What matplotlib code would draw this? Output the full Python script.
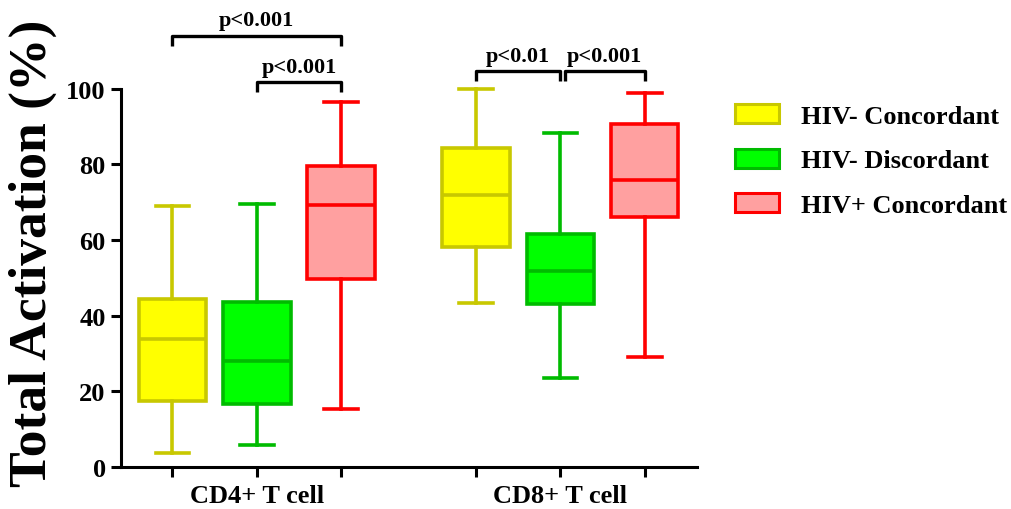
import matplotlib.pyplot as plt
from matplotlib.patches import Patch

# Box statistics (whisker low, Q1, median, Q3, whisker high)
groups = ['CD4+ T cell', 'CD8+ T cell']
series = ['HIV- Concordant', 'HIV- Discordant', 'HIV+ Concordant']

whisker_low = [3.7, 5.9, 15.4, 43.4, 23.5, 29.2]
q1 = [17.4, 16.7, 49.8, 58.2, 43.2, 66.1]
median = [33.9, 28.1, 69.3, 71.9, 51.7, 75.8]
q3 = [44.3, 43.6, 79.6, 84.4, 61.7, 90.6]
whisker_high = [69.1, 69.6, 96.6, 99.9, 88.4, 98.9]

# significance brackets: (left box index, right box index, bracket height, label)
brackets = [(0, 2, 114.0, 'p<0.001'),
            (1, 2, 101.8, 'p<0.001'),
            (3, 4, 104.6, 'p<0.01'),
            (4, 5, 104.6, 'p<0.001')]

fills = ['#FFFF00', '#00FF00', '#FFA0A0']
edges = ['#C8C800', '#00BB00', '#FF0000']

positions = [0, 1, 2, 3.6, 4.6, 5.6]

plt.rcParams['font.family'] = ['Liberation Serif', 'DejaVu Serif']
plt.rcParams['font.weight'] = 'bold'

fig = plt.figure(figsize=(10.12, 5.1), dpi=100)
ax = fig.add_axes([121 / 1012, 42 / 510, (697 - 121) / 1012, 0.905])

stats = []
for i in range(len(positions)):
    stats.append(dict(whislo=whisker_low[i], q1=q1[i], med=median[i],
                      q3=q3[i], whishi=whisker_high[i], fliers=[]))

lw = 2.6
for i, st in enumerate(stats):
    c = i % 3
    ax.bxp([st], positions=[positions[i]], widths=0.8, patch_artist=True,
           showfliers=False,
           boxprops=dict(facecolor=fills[c], edgecolor=edges[c], linewidth=lw),
           medianprops=dict(color=edges[c], linewidth=lw),
           whiskerprops=dict(color=edges[c], linewidth=lw),
           capprops=dict(color=edges[c], linewidth=lw))

# brackets with p-values
tick_h = 2.7
for a, b, h, label in brackets:
    x1, x2 = positions[a], positions[b]
    if a == 4:
        x1 += 0.05
    ax.plot([x1, x1, x2, x2], [h - tick_h, h, h, h - tick_h], color='black',
            linewidth=2.4, solid_capstyle='butt', clip_on=False)
    ax.text((x1 + x2) / 2, h + 1.4, label, ha='center', va='bottom',
            fontsize=16, fontweight='bold')

ax.set_xlim(-0.61, 6.22)
ax.set_ylim(0, 122)
ax.set_yticks([0, 20, 40, 60, 80, 100])
ax.set_xticks(positions)
ax.set_xticklabels(['', groups[0], '', '', groups[1], ''])
ax.spines['left'].set_bounds(0, 100)
ax.spines['top'].set_visible(False)
ax.spines['right'].set_visible(False)
for s in ['left', 'bottom']:
    ax.spines[s].set_linewidth(2.2)
ax.tick_params(axis='both', direction='out', length=7, width=2.2,
               labelsize=19, pad=4)
ax.tick_params(axis='x', pad=5)
for lab in ax.get_xticklabels() + ax.get_yticklabels():
    lab.set_fontweight('bold')

fig.text(33 / 1012, 0.503, 'Total Activation (%)', rotation=90,
         ha='center', va='center', fontsize=38.5, fontweight='bold')

handles = [Patch(facecolor=fills[k], edgecolor=edges[k], linewidth=2.2)
           for k in range(3)]
fig.legend(handles, series, loc='upper left',
           bbox_to_anchor=(735 / 1012, 1 - 105 / 510),
           bbox_transform=fig.transFigure, frameon=False, borderpad=0,
           borderaxespad=0, handlelength=1.65, handleheight=0.72,
           handletextpad=0.85, labelspacing=0.8,
           prop=dict(size=19, weight='bold'))

plt.savefig('out.png', dpi=100)
